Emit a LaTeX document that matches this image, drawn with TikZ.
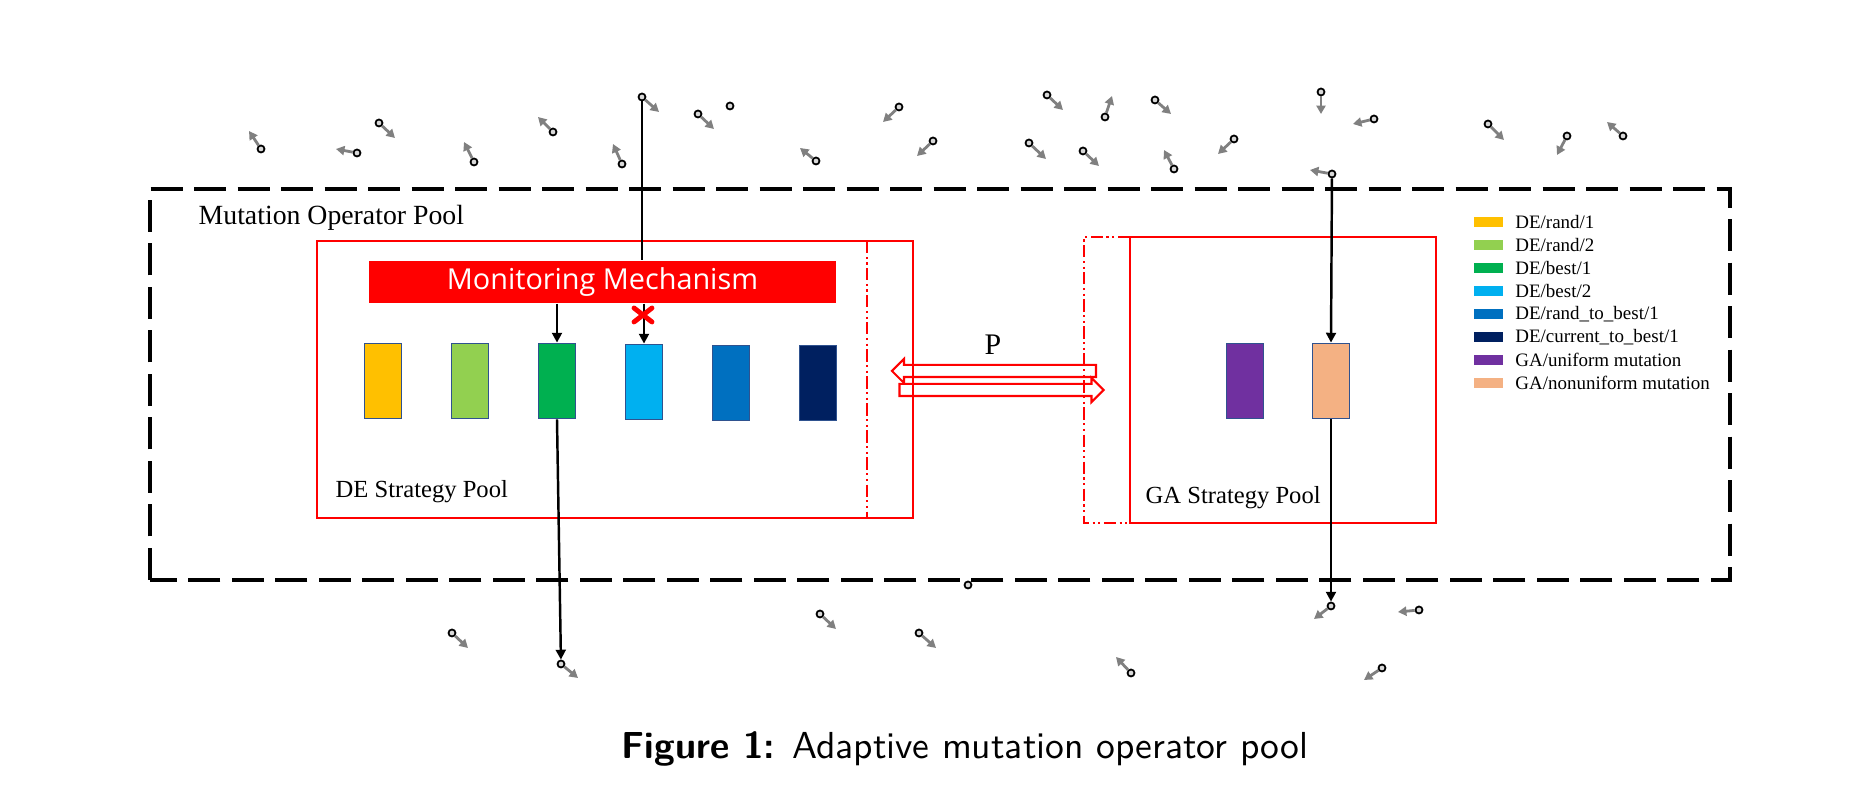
\documentclass[tikz,border=0pt]{standalone}
\usepackage{fontspec}
\setmainfont{Liberation Serif}
\newfontfamily\monfont{Open Sans}
\usetikzlibrary{arrows.meta,positioning,shapes.arrows,shapes.misc}

\definecolor{derandone}{RGB}{255,192,0}
\definecolor{derandtwo}{RGB}{146,208,80}
\definecolor{debestone}{RGB}{0,176,80}
\definecolor{debesttwo}{RGB}{0,176,240}
\definecolor{derandbest}{RGB}{0,112,192}
\definecolor{decurbest}{RGB}{0,32,96}
\definecolor{gauniform}{RGB}{112,48,160}
\definecolor{ganonuni}{RGB}{244,177,131}
\definecolor{boxedge}{RGB}{47,82,143}
\definecolor{poolred}{RGB}{255,0,0}
\newcommand{\particle}[3]{
  \node[particle] (#1) at (#2) {};
  \coordinate (#1t) at (#3);
  \draw[drift] (#1) -- (#1t);
}

\begin{document}
\begin{tikzpicture}

%
% Styles
%
\tikzstyle{particle} = [circle,draw=black,fill=black!15,line width=0.5pt,minimum size=0.07cm,inner sep=0]
\tikzstyle{drift} = [draw=black!50,line width=0.8pt,-{Triangle[length=2.4pt,width=2.6pt]}]
\tikzstyle{flow} = [draw=black,line width=0.7pt,-{Triangle[length=2.8pt,width=2.8pt]}]
\tikzstyle{strategy} = [rectangle,draw=boxedge,line width=0.5pt,minimum width=0.37cm,minimum height=0.75cm,inner sep=0]
\tikzstyle{pool} = [draw=poolred,line width=0.4pt]
\tikzstyle{window} = [draw=poolred,line width=0.4pt,dash pattern=on 3.5pt off 1pt on 0.6pt off 1pt on 0.6pt off 1pt]
\tikzstyle{exchange} = [single arrow,draw=poolred,fill=white,line width=0.6pt,minimum height=2.04cm,inner sep=0.05cm,single arrow head extend=0.06cm]
\tikzstyle{monitor} = [rectangle,fill=poolred,text=white,minimum width=4.67cm,minimum height=0.42cm,inner sep=0,font=\monfont\fontsize{8.2}{9}\selectfont]
\tikzstyle{swatch} = [rectangle,minimum width=0.29cm,minimum height=0.10cm,inner sep=0]
\tikzstyle{legtext} = [font=\fontsize{5.4}{6}\selectfont,inner sep=0,anchor=west]
\tikzstyle{title} = [anchor=base west,inner sep=0]

\useasboundingbox (0,0) rectangle (18.55,8.03);

% operator pool
\draw[black,line width=1.1pt,dash pattern=on 0.32cm off 0.115cm] (1.50,2.23) rectangle (17.30,6.14);
\node[title,font=\fontsize{7.9}{9}\selectfont] (mop) at (1.98,5.78) {Mutation Operator Pool};

% exchange between the two pools
\node[exchange,shape border rotate=180] (pl) at (9.97,4.32) {};
\node[exchange] (pr) at (9.985,4.13) {};
\node[font=\fontsize{8.5}{10}\selectfont] (p) at (9.93,4.58) {P};

\draw[pool] (3.17,2.85) rectangle (9.13,5.62);
\draw[window] (8.67,5.62) -- (8.67,2.85);
\node[title,font=\fontsize{7}{8}\selectfont] (dep) at (3.35,3.05) {DE Strategy Pool};

\draw[pool] (11.30,2.80) rectangle (14.36,5.66);
\draw[window] (11.30,5.66) -- (10.84,5.66) -- (10.84,2.80) -- (11.30,2.80);
\node[title,font=\fontsize{7}{8}\selectfont] (gap) at (11.45,2.99) {GA Strategy Pool};

\node[monitor] (mon) at (6.025,5.21) {Monitoring Mechanism};

\node[strategy,fill=derandone] (s1) at (3.83,4.22) {};
\node[strategy,fill=derandtwo] (s2) at (4.70,4.22) {};
\node[strategy,fill=debestone] (s3) at (5.57,4.22) {};
\node[strategy,fill=debesttwo] (s4) at (6.44,4.21) {};
\node[strategy,fill=derandbest] (s5) at (7.31,4.20) {};
\node[strategy,fill=decurbest] (s6) at (8.18,4.20) {};
\node[strategy,fill=gauniform] (g1) at (12.45,4.22) {};
\node[strategy,fill=ganonuni] (g2) at (13.31,4.22) {};

% individuals
\particle{a}{2.61,6.54}{2.49,6.72}
\particle{b}{3.57,6.50}{3.36,6.54}
\particle{c}{3.79,6.80}{3.95,6.65}
\particle{d}{4.74,6.41}{4.64,6.61}
\particle{e}{5.53,6.71}{5.38,6.86}
\particle{f}{6.22,6.39}{6.13,6.59}
\particle{g}{6.42,7.06}{6.59,6.91}
\particle{h}{6.98,6.89}{7.14,6.74}
\node[particle] (i) at (7.30,6.97) {};
\particle{j}{8.16,6.42}{8.00,6.55}
\particle{k}{8.99,6.96}{8.83,6.81}
\particle{l}{9.33,6.62}{9.17,6.47}
\particle{m}{10.47,7.08}{10.63,6.93}
\particle{n}{11.05,6.86}{11.12,7.07}
\particle{o}{11.55,7.03}{11.71,6.89}
\particle{pa}{10.29,6.60}{10.46,6.44}
\particle{q}{10.83,6.52}{10.99,6.37}
\particle{r}{11.74,6.34}{11.64,6.53}
\particle{s}{12.34,6.64}{12.18,6.49}
\particle{t}{13.21,7.11}{13.21,6.89}
\particle{u}{13.74,6.84}{13.53,6.79}
\particle{v}{13.32,6.29}{13.10,6.33}
\particle{w}{14.88,6.79}{15.04,6.63}
\particle{x}{15.67,6.67}{15.57,6.48}
\particle{y}{16.23,6.67}{16.07,6.81}

\particle{z1}{4.52,1.70}{4.68,1.55}
\particle{z2}{5.61,1.39}{5.78,1.25}
\particle{z3}{8.20,1.89}{8.36,1.74}
\particle{z4}{9.19,1.70}{9.36,1.55}
\node[particle] (z5) at (9.68,2.18) {};
\particle{z6}{13.31,1.97}{13.14,1.84}
\particle{z7}{14.19,1.93}{13.98,1.91}
\particle{z8}{11.31,1.30}{11.16,1.46}
\particle{z9}{13.82,1.35}{13.64,1.23}

% selection
\draw[black,line width=0.7pt] (g) -- (g |- mon.north);
\draw[flow] (s3 |- mon.south) -- (s3.north);
\draw[flow] (s4 |- mon.south) -- (s4.north);
\node[cross out,draw=poolred,line width=1.4pt,line cap=round,minimum width=0.13cm,minimum height=0.09cm,inner sep=0] (veto) at (6.43,4.88) {};
\draw[flow] (s3.south) -- (z2);
\draw[flow] (v) -- (g2.north);
\draw[flow] (g2.south) -- (z6);

% legend
\node[swatch,fill=derandone] (k1) at (14.885,5.813) {};
\node[legtext,right=0.11cm of k1] (n1) {DE/rand/1};
\node[swatch,fill=derandtwo] (k2) at (14.885,5.582) {};
\node[legtext,right=0.11cm of k2] (n2) {DE/rand/2};
\node[swatch,fill=debestone] (k3) at (14.885,5.351) {};
\node[legtext,right=0.11cm of k3] (n3) {DE/best/1};
\node[swatch,fill=debesttwo] (k4) at (14.885,5.120) {};
\node[legtext,right=0.11cm of k4] (n4) {DE/best/2};
\node[swatch,fill=derandbest] (k5) at (14.885,4.889) {};
\node[legtext,right=0.11cm of k5] (n5) {DE/rand\_to\_best/1};
\node[swatch,fill=decurbest] (k6) at (14.885,4.658) {};
\node[legtext,right=0.11cm of k6] (n6) {DE/current\_to\_best/1};
\node[swatch,fill=gauniform] (k7) at (14.885,4.427) {};
\node[legtext,right=0.11cm of k7] (n7) {GA/uniform mutation};
\node[swatch,fill=ganonuni] (k8) at (14.885,4.196) {};
\node[legtext,right=0.11cm of k8] (n8) {GA/nonuniform mutation};

\node[anchor=base,font=\sffamily\fontsize{10.7}{12}\selectfont] (cap) at (9.65,0.44) {\textbf{Figure 1:} Adaptive mutation operator pool};

\end{tikzpicture}
\end{document}
